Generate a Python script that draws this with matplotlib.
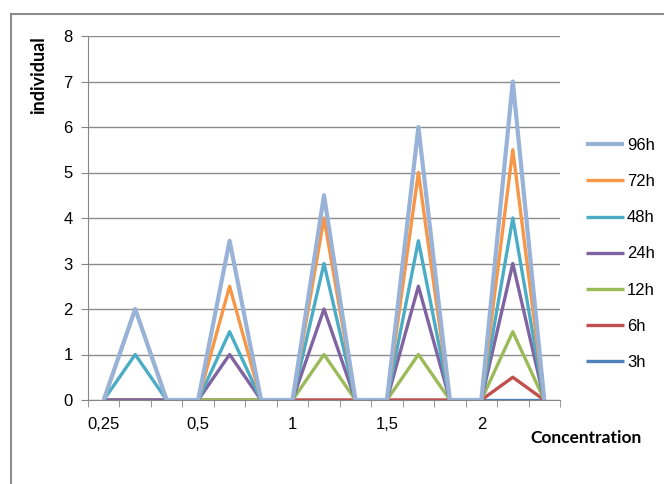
import matplotlib.pyplot as plt
from matplotlib.lines import Line2D
import numpy as np

# Category axis: 15 points, labelled every third one
categories = ["0,25", "", "", "0,5", "", "", "1", "", "", "1,5", "", "", "2", "", ""]

# Series values per category (0 / peak / 0 around each concentration)
h3 = [0, 0, 0, 0, 0, 0, 0, 0, 0, 0, 0, 0, 0, 0, 0]
h6 = [0, 0, 0, 0, 0, 0, 0, 0, 0, 0, 0, 0, 0, 0.5, 0]
h12 = [0, 0, 0, 0, 0, 0, 0, 1, 0, 0, 1, 0, 0, 1.5, 0]
h24 = [0, 0, 0, 0, 1, 0, 0, 2, 0, 0, 2.5, 0, 0, 3, 0]
h48 = [0, 1, 0, 0, 1.5, 0, 0, 3, 0, 0, 3.5, 0, 0, 4, 0]
h72 = [0, 2, 0, 0, 2.5, 0, 0, 4, 0, 0, 5, 0, 0, 5.5, 0]
h96 = [0, 2, 0, 0, 3.5, 0, 0, 4.5, 0, 0, 6, 0, 0, 7, 0]

series = [("3h", h3, "#4F81BD", 2.4),
          ("6h", h6, "#C0504D", 2.4),
          ("12h", h12, "#9BBB59", 2.4),
          ("24h", h24, "#8064A2", 2.4),
          ("48h", h48, "#4BACC6", 2.4),
          ("72h", h72, "#F79646", 2.4),
          ("96h", h96, "#98B2D8", 3.0)]

fig = plt.figure(figsize=(6.64, 4.84), dpi=100)
ax = fig.add_axes([88 / 664, 84 / 484, 472 / 664, 364 / 484])

x = np.arange(len(categories))
handles = []
for name, vals, col, lw in series:
    ln, = ax.plot(x, vals, color=col, lw=lw, label=name, solid_capstyle="butt")
    handles.append(ln)

ax.set_xlim(-0.5, len(categories) - 0.5)
ax.set_ylim(0, 8)
ax.set_yticks(range(0, 9))

# labels only on every third category, tick marks between categories
lab_pos = [i for i, c in enumerate(categories) if c]
ax.set_xticks(lab_pos)
ax.set_xticklabels([categories[i] for i in lab_pos])
ax.set_xticks(np.arange(-0.5, len(categories)), minor=True)
ax.tick_params(axis="x", which="major", length=0, pad=12, labelsize=12)
ax.tick_params(axis="x", which="minor", length=5, color="#868686", direction="out")
ax.tick_params(axis="y", length=5, color="#868686", direction="out", pad=6, labelsize=12)

ax.grid(axis="y", color="#8c8c8c", lw=1)
ax.set_axisbelow(True)
for s in ["top", "right"]:
    ax.spines[s].set_visible(False)
for s in ["left", "bottom"]:
    ax.spines[s].set_color("#868686")

for lab in ax.get_xticklabels() + ax.get_yticklabels():
    lab.set_fontfamily("Liberation Sans")

fig.text(586 / 664, 1 - 438 / 484, "Concentration", fontsize=12.5, fontweight="bold",
         family="Lato", ha="center", va="center")
fig.text(39 / 664, 1 - 75 / 484, "individual", fontsize=13, fontweight="bold",
         family="Lato", ha="center", va="center", rotation=90)

leg = fig.legend(handles[::-1], [h.get_label() for h in handles[::-1]],
                 loc="upper left", bbox_to_anchor=(586 / 664, 1 - 138 / 484),
                 frameon=False, handlelength=2.3, handletextpad=0.15,
                 labelspacing=1.27, borderpad=0, borderaxespad=0,
                 prop={"family": "Liberation Sans", "size": 12})

# outer chart border
fig.add_artist(Line2D([11 / 664, 11 / 664], [0, 1 - 14 / 484], color="#8c8c8c", lw=1.5))
fig.add_artist(Line2D([11 / 664, 1], [1 - 14 / 484, 1 - 14 / 484], color="#8c8c8c", lw=1.5))

fig.savefig("out.png", dpi=100)
